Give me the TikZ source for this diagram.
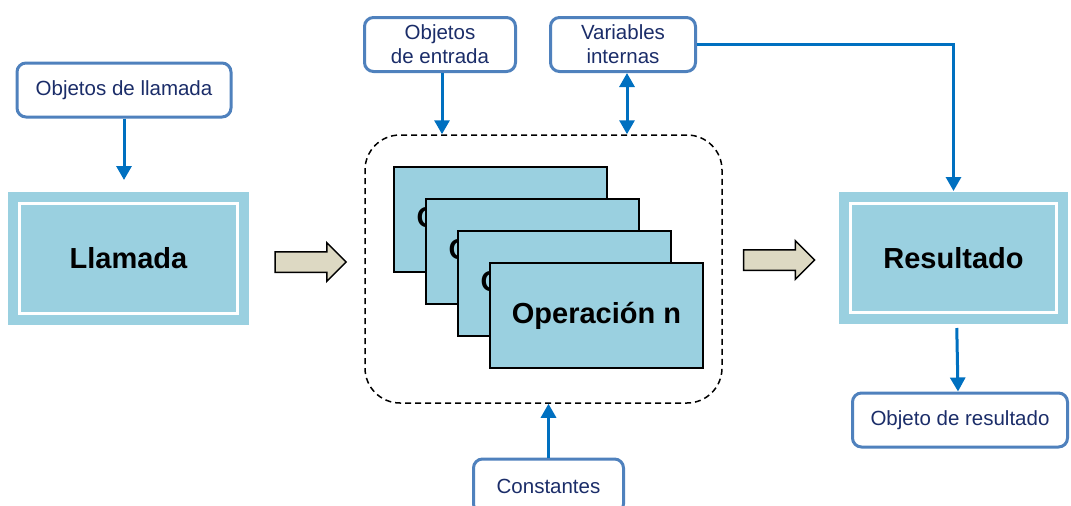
\documentclass[tikz,border=0pt]{standalone}
\usepackage{fontspec}
\setmainfont{Liberation Sans}
\usetikzlibrary{shapes,arrows,arrows.meta,fit,positioning}
\definecolor{boxfill}{RGB}{154,208,224}
\definecolor{lblborder}{RGB}{79,129,189}
\definecolor{lbltext}{RGB}{27,45,105}
\definecolor{flowblue}{RGB}{0,112,192}
\definecolor{beige}{RGB}{221,217,195}

\begin{document}
\begin{tikzpicture}[x=1pt,y=-1pt,
    lbl/.style={draw=lblborder,line width=3pt,rounded corners=9pt,fill=white,
        text=lbltext,font=\fontsize{20.5}{24}\selectfont,align=center,
        inner sep=0pt,minimum height=54pt},
    mainbox/.style={fill=boxfill,draw=white,line width=3pt,
        preaction={draw=boxfill,line width=23pt},
        font=\fontsize{29}{34}\selectfont\bfseries,inner sep=0pt},
    opbox/.style={fill=boxfill,draw=black,line width=2.5pt,
        minimum width=213pt,minimum height=105pt,inner sep=0pt,
        font=\fontsize{29}{34}\selectfont\bfseries},
    bigarrow/.style={single arrow,draw=black,fill=beige,line width=1.5pt,
        minimum width=37pt,minimum height=71pt,single arrow head extend=9pt,
        inner xsep=0pt,inner ysep=9.5pt},
    flow/.style={draw=flowblue,line width=3pt,-{Triangle[width=15pt,length=14pt]}}]

\useasboundingbox (0,0) rectangle (1071,506);

\node[lbl,minimum width=214pt] (objllam) at (124,90) {Objetos de llamada};
\node[mainbox,minimum width=218pt,minimum height=110pt] (llamada) at (128.5,258.5) {Llamada};

\node[draw=black,dashed,dash pattern=on 6pt off 4pt,line width=1.5pt,rounded corners=35pt,
    minimum width=357pt,minimum height=268pt] (ops) at (543.5,269) {};
\node[opbox] (op1) at (500.5,219.5) {Operación 1};
\node[opbox] (op2) at (532.5,251.5) {Operación 2};
\node[opbox] (op3) at (564.5,283.5) {Operación 3};
\node[opbox] (op4) at (596.5,315.5) {Operación n};

\node[lbl,minimum width=151pt] (objent) at (440,44.5) {Objetos\\de entrada};
\node[lbl,minimum width=145pt] (varint) at (623,44.5) {Variables\\internas};
\node[lbl,minimum width=150pt] (const) at (548.5,486) {Constantes};

\node[mainbox,minimum width=206pt,minimum height=109pt] (resultado) at (953.5,258) {Resultado};
\node[lbl,minimum width=215pt] (objres) at (960,420) {Objeto de resultado};

\node[bigarrow] (arr1) at (305.5,262) {};
\node[bigarrow] (arr2) at (774,260) {};

\draw[flow,shorten >=22pt] (objllam.south) -- (objllam.south |- llamada.north);
\draw[flow] ([xshift=2pt]objent.south) -- ([xshift=2pt]objent.south |- ops.north);
\draw[flow,{Triangle[width=15pt,length=14pt]}-{Triangle[width=15pt,length=14pt]}]
    ([xshift=4pt]varint.south) -- ([xshift=4pt]varint.south |- ops.north);
\draw[flow,shorten >=11pt] (varint.east) -| (resultado.north);
\draw[flow,shorten <=14pt] ([xshift=3pt]resultado.south) -- ([xshift=-2pt]objres.north);
\draw[flow] (const.north) -- (const.north |- ops.south);

\end{tikzpicture}
\end{document}
